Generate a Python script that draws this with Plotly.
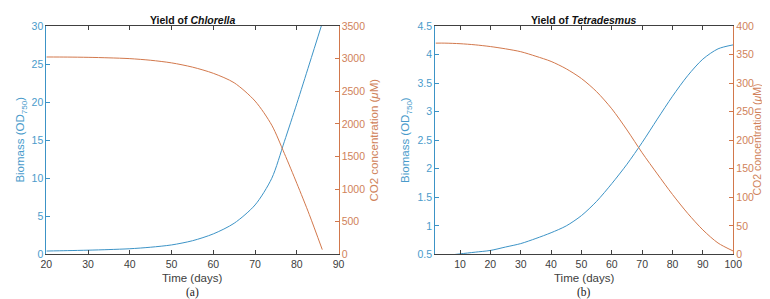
import plotly.graph_objects as go

# ---- data: Chlorella (panel a) ----
t_chl = [20, 25, 30, 35, 40, 45, 50, 55, 60, 65, 70, 74, 77, 80, 83, 86.1]
bio_chl = [0.45, 0.5, 0.56, 0.64, 0.75, 0.95, 1.25, 1.8, 2.7, 4.1, 6.5, 10.0, 14.8, 19.8, 25.0, 30.4]
co2_chl = [3025, 3024, 3020, 3012, 3000, 2975, 2935, 2870, 2775, 2630, 2350, 1980, 1550, 1090, 610, 74]

# ---- data: Tetradesmus (panel b) ----
t_tet = [2, 5, 10, 15, 20, 25, 30, 35, 40, 45, 50, 55, 60, 65, 70, 75, 80, 85, 90, 95, 100]
bio_tet = [0.47, 0.48, 0.51, 0.54, 0.57, 0.63, 0.69, 0.78, 0.88, 1.0, 1.18, 1.43, 1.74, 2.08, 2.46, 2.87, 3.27, 3.63, 3.92, 4.1, 4.17]
co2_tet = [370, 370, 369, 367, 364, 360, 355, 347, 338, 325, 308, 285, 255, 218, 178, 141, 105, 72, 43, 20, 6]

x_ticks_a = [20, 30, 40, 50, 60, 70, 80, 90]
x_ticks_b = [10, 20, 30, 40, 50, 60, 70, 80, 90, 100]

BLUE = "#3C93C6"
ORANGE = "#D2784C"
BLUE_T = "#4A9BCB"
ORANGE_T = "#D0825A"
GRAY = "#404040"
FONT = "Liberation Sans"
W, H = 770, 299

def px(x):
    return x / W

def py(y):
    return 1 - y / H

fig = go.Figure()
ls = dict(width=1, shape="spline", smoothing=0.8)
fig.add_trace(go.Scatter(x=t_chl, y=bio_chl, mode="lines", line=dict(color=BLUE, **ls),
                         xaxis="x", yaxis="y", showlegend=False))
fig.add_trace(go.Scatter(x=t_chl, y=co2_chl, mode="lines", line=dict(color=ORANGE, **ls),
                         xaxis="x", yaxis="y2", showlegend=False))
fig.add_trace(go.Scatter(x=t_tet, y=bio_tet, mode="lines", line=dict(color=BLUE, **ls),
                         xaxis="x2", yaxis="y3", showlegend=False))
fig.add_trace(go.Scatter(x=t_tet, y=co2_tet, mode="lines", line=dict(color=ORANGE, **ls),
                         xaxis="x2", yaxis="y4", showlegend=False))

ydom = [py(250.5), py(12.5)]
xdom_a = [px(33), px(331)]
xdom_b = [px(429.5), px(733.5)]

def xax(dom, rng, ticks, anchor):
    return dict(domain=dom, range=rng, tickvals=ticks, ticks="inside", ticklen=4,
                showline=True, linecolor=GRAY, linewidth=1, mirror="ticks", tickcolor=GRAY,
                showgrid=False, zeroline=False, anchor=anchor,
                tickfont=dict(family=FONT, size=10.5, color=GRAY))

def yax(rng, dtick, color, tcolor, side, anchor, overlaying=None):
    d = dict(domain=ydom, range=rng, dtick=dtick, ticks="inside", ticklen=4,
             showline=True, linecolor=color, linewidth=1, tickcolor=color,
             showgrid=False, zeroline=False, side=side, anchor=anchor,
             tickfont=dict(family=FONT, size=10.5, color=tcolor))
    if overlaying:
        d["overlaying"] = overlaying
    return d

fig.update_layout(
    width=W, height=H, margin=dict(l=0, r=0, t=0, b=0),
    paper_bgcolor="white", plot_bgcolor="white",
    xaxis=xax(xdom_a, [20, 90], x_ticks_a, "y"),
    yaxis=yax([0, 30], 5, BLUE, BLUE_T, "left", "x"),
    yaxis2=yax([0, 3500], 500, ORANGE, ORANGE_T, "right", "x", "y"),
    xaxis2=xax(xdom_b, [1.8, 100], x_ticks_b, "y3"),
    yaxis3=yax([0.5, 4.5], 0.5, BLUE, BLUE_T, "left", "x2"),
    yaxis4=yax([0, 400], 50, ORANGE, ORANGE_T, "right", "x2", "y3"),
)

ann = []
def add(text, x, y, size, color=GRAY, angle=0, family=FONT):
    ann.append(dict(text=text, x=px(x), y=py(y), xref="paper", yref="paper",
                    showarrow=False, textangle=angle, xanchor="center", yanchor="middle",
                    borderpad=0, font=dict(family=family, size=size, color=color)))

add("<b>Yield of <i>Chlorella</i></b>", 182.5, 6, 10.5, "#111111")
add("<b>Yield of <i>Tetradesmus</i></b>", 581, 6, 10.5, "#111111")
add("Biomass (OD<sub>750</sub>)", 7, 131, 11.5, BLUE_T, -90)
add("Biomass (OD<sub>750</sub>)", 400, 131, 11.5, BLUE_T, -90)
add("CO2 concentration (<i>μ</i>M)", 367, 131, 11.5, ORANGE_T, -90)
add("CO2 concentration (<i>μ</i>M)", 757.5, 131, 10.5, ORANGE_T, -90)
add("Time (days)", 182, 275, 11.5)
add("Time (days)", 581, 275, 11.5)
add("(a)", 182, 290.5, 11.5, "#222222", family="Liberation Serif")
add("(b)", 581, 290.5, 11.5, "#222222", family="Liberation Serif")
fig.update_layout(annotations=ann)

fig.write_html("out.html")
